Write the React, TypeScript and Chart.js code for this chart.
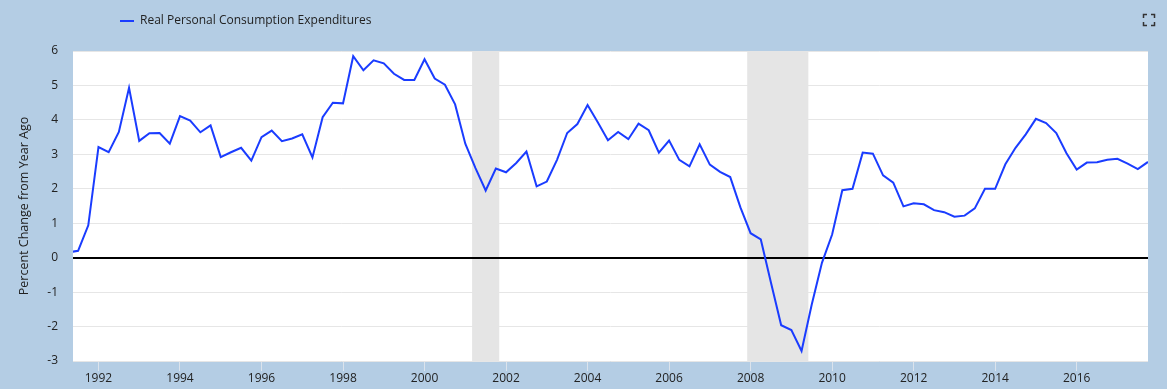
import React, { useEffect, useRef } from 'react';
import { Chart, registerables } from 'chart.js';

Chart.register(...registerables);

const seriesName = 'Real Personal Consumption Expenditures';
const yAxisTitle = 'Percent Change from Year Ago';

// Quarterly observations, 1991Q2 .. 2017Q4
const startYear = 1991;
const startQuarter = 2;
const pceChange = [
  0.15, 0.2, 0.94,
  3.21, 3.06, 3.65, 4.93,
  3.39, 3.61, 3.62, 3.31,
  4.11, 3.98, 3.64, 3.84,
  2.92, 3.06, 3.19, 2.82,
  3.5, 3.69, 3.38, 3.46,
  3.58, 2.91, 4.08, 4.5,
  4.48, 5.85, 5.44, 5.73,
  5.64, 5.34, 5.16, 5.16,
  5.76, 5.2, 5.02, 4.45,
  3.31, 2.6, 1.95, 2.59,
  2.48, 2.75, 3.08, 2.07,
  2.21, 2.84, 3.62, 3.88,
  4.43, 3.93, 3.41, 3.65,
  3.44, 3.89, 3.7, 3.05,
  3.4, 2.84, 2.65, 3.29,
  2.7, 2.49, 2.34, 1.46,
  0.71, 0.53, -0.73, -1.96,
  -2.1, -2.71, -1.36, -0.15,
  0.67, 1.96, 2.0, 3.05,
  3.02, 2.39, 2.18, 1.49,
  1.58, 1.55, 1.38, 1.32,
  1.19, 1.22, 1.43, 2.0,
  2.0, 2.71, 3.19, 3.58,
  4.03, 3.91, 3.62, 3.03,
  2.56, 2.76, 2.77, 2.84,
  2.87, 2.73, 2.57, 2.78,
];

const quarters = pceChange.map((_, i) => {
  const q = startQuarter - 1 + i;
  return `${startYear + Math.floor(q / 4)}Q${(q % 4) + 1}`;
});

const xTickLabels = ['1992', '1994', '1996', '1998', '2000', '2002', '2004', '2006', '2008', '2010', '2012', '2014', '2016'];
const xMin = 1991.375;
const xMax = 2017.75;
const yMin = -3;
const yMax = 6;

// recessions (decimal years)
const recessionStarts = [2001.167, 2007.917];
const recessionEnds = [2001.833, 2009.417];

const quarterToYear = (label: string) => {
  const [y, q] = label.split('Q');
  return Number(y) + (Number(q) - 1) / 4;
};

const BG = '#b4cde4';
const LINE = '#1a3cff';
const FONT = '"Open Sans", "DejaVu Sans", sans-serif';

const decorPlugin = {
  id: 'decor',
  beforeDraw(chart: any) {
    const { ctx, chartArea: a, width, height } = chart;
    ctx.save();
    ctx.fillStyle = BG;
    ctx.fillRect(0, 0, width, height);
    ctx.fillStyle = '#ffffff';
    ctx.fillRect(a.left, a.top, a.right - a.left, a.bottom - a.top);
    ctx.restore();
  },
  beforeDatasetsDraw(chart: any) {
    const { ctx, chartArea: a, scales } = chart;
    const xs = scales.x;
    const ys = scales.y;
    ctx.save();
    ctx.beginPath();
    ctx.rect(a.left, a.top, a.right - a.left, a.bottom - a.top);
    ctx.clip();
    ctx.fillStyle = '#e5e5e5';
    recessionStarts.forEach((s, i) => {
      const x0 = xs.getPixelForValue(s);
      const x1 = xs.getPixelForValue(recessionEnds[i]);
      ctx.fillRect(x0, a.top, x1 - x0, a.bottom - a.top);
    });
    const y0 = Math.round(ys.getPixelForValue(0));
    ctx.strokeStyle = '#000000';
    ctx.lineWidth = 2;
    ctx.beginPath();
    ctx.moveTo(a.left, y0);
    ctx.lineTo(a.right, y0);
    ctx.stroke();
    ctx.restore();
  },
  afterDraw(chart: any) {
    const { ctx } = chart;
    ctx.save();
    // legend
    ctx.strokeStyle = LINE;
    ctx.lineWidth = 2;
    ctx.beginPath();
    ctx.moveTo(120, 21);
    ctx.lineTo(134, 21);
    ctx.stroke();
    ctx.fillStyle = '#222222';
    ctx.font = `12px ${FONT}`;
    ctx.textBaseline = 'middle';
    ctx.textAlign = 'left';
    ctx.fillText(seriesName, 140, 21);
    // fullscreen icon
    ctx.strokeStyle = '#333333';
    ctx.lineWidth = 1.5;
    const L = 1143.5, R = 1154.5, T = 14.5, B = 25.5, k = 3.5;
    ctx.beginPath();
    ctx.moveTo(L, T + k); ctx.lineTo(L, T); ctx.lineTo(L + k, T);
    ctx.moveTo(R - k, T); ctx.lineTo(R, T); ctx.lineTo(R, T + k);
    ctx.moveTo(R, B - k); ctx.lineTo(R, B); ctx.lineTo(R - k, B);
    ctx.moveTo(L + k, B); ctx.lineTo(L, B); ctx.lineTo(L, B - k);
    ctx.stroke();
    ctx.restore();
  },
};

export default function App() {
  const ref = useRef<HTMLCanvasElement | null>(null);

  useEffect(() => {
    if (!ref.current) return;
    const chart = new Chart(ref.current, {
      type: 'line',
      data: {
        datasets: [
          {
            label: seriesName,
            data: quarters.map((q, i) => ({ x: quarterToYear(q), y: pceChange[i] })),
            borderColor: LINE,
            backgroundColor: LINE,
            borderWidth: 2,
            pointRadius: 0,
            tension: 0,
            clip: 0,
          } as any,
        ],
      },
      options: {
        responsive: false,
        animation: false,
        layout: { padding: { left: 0, top: 51, right: 19, bottom: 0 } },
        plugins: {
          legend: { display: false },
          tooltip: { enabled: false },
        },
        scales: {
          x: {
            type: 'linear',
            min: xMin,
            max: xMax,
            afterBuildTicks: (scale: any) => {
              scale.ticks = xTickLabels.map((t) => ({ value: Number(t) }));
            },
            afterFit: (scale: any) => {
              scale.height = 28;
            },
            ticks: {
              autoSkip: false,
              maxRotation: 0,
              padding: 0,
              color: '#222222',
              font: { family: FONT, size: 12 },
              callback: (v: any) => String(v),
            },
            grid: {
              drawOnChartArea: false,
              drawTicks: true,
              tickLength: 10,
              color: '#dbe3ec',
            },
            border: { display: false },
          },
          y: {
            min: yMin,
            max: yMax,
            afterFit: (scale: any) => {
              scale.width = 73;
            },
            ticks: {
              stepSize: 1,
              padding: 15,
              color: '#222222',
              font: { family: FONT, size: 12 },
            },
            grid: {
              drawTicks: false,
              color: (c: any) => (c.tick && c.tick.value === 0 ? 'rgba(0,0,0,0)' : '#e6e6e6'),
              lineWidth: 1,
            },
            border: { display: false },
            title: {
              display: true,
              text: yAxisTitle,
              color: '#222222',
              font: { family: FONT, size: 12.5 },
              padding: { top: 17, bottom: 0 },
            },
          },
        },
      },
      plugins: [decorPlugin],
    });
    return () => chart.destroy();
  }, []);

  return (
    <div style={{ position: 'absolute', left: 0, top: 0, width: 1167, height: 389 }}>
      <canvas ref={ref} width={1167} height={389} style={{ display: 'block', width: 1167, height: 389 }} />
    </div>
  );
}
